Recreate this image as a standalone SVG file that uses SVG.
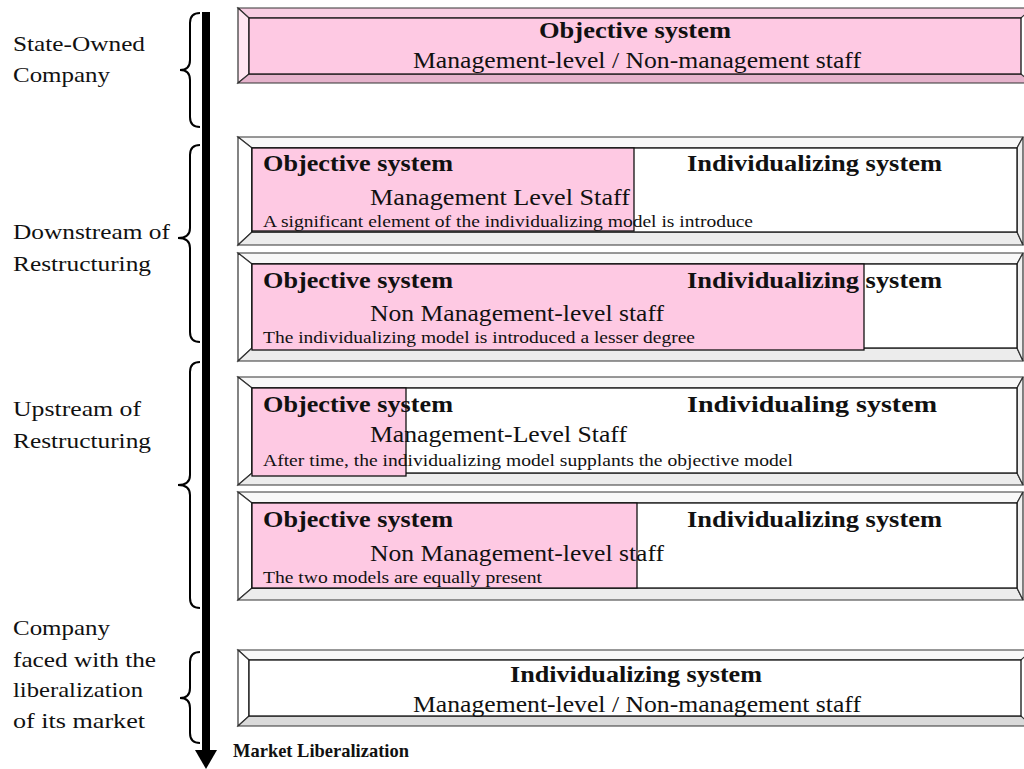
<svg xmlns="http://www.w3.org/2000/svg" width="1024" height="769" viewBox="0 0 1024 769">
  <style>
    text { font-family: "Liberation Serif", "Times New Roman", serif; fill: #111; }
    .lbl { font-size: 22px; }
    .bold { font-size: 23px; font-weight: bold; }
    .med { font-size: 23px; }
    .small { font-size: 17px; }
    .face { stroke: #333; stroke-width: 1.2; stroke-linejoin: miter; }
    .pk-top { fill: #f8cde2; } .pk-left { fill: #ffe6f1; } .pk-bot { fill: #e6b3cc; } .pk-right { fill: #efbdd6; } .pk-main { fill: #fec9e3; }
    .wh-top { fill: #f8f8f8; } .wh-left { fill: #ffffff; } .wh-bot { fill: #ececec; } .wh-right { fill: #f0f0f0; } .wh-main { fill: #ffffff; }
    .wh-bot-dark { fill: #dadada; }
    .inner { stroke: #111; stroke-width: 1.3; }
    .overlay { fill: #fec9e3; stroke: #111; stroke-width: 1.3; }
    .brace { fill: none; stroke: #000; stroke-width: 2; }
  </style>

  <!-- timeline arrow and stage braces -->
  <g id="connectors">
    <line x1="206" y1="12" x2="206" y2="752" stroke="#000" stroke-width="8"/>
    <polygon points="195,750 217,750 206,769" fill="#000"/>
    <path class="brace" d="M200,13 Q190,13 190,23 L190,60 Q190,70 180,70 Q190,70 190,80 L190,117 Q190,127 200,127"/>
    <path class="brace" d="M200,145 Q190,145 190,155 L190,228 Q190,238 178,238 Q190,238 190,248 L190,332 Q190,342 200,342"/>
    <path class="brace" d="M200,362 Q190,362 190,372 L190,475 Q190,485 178,485 Q190,485 190,495 L190,598 Q190,608 200,608"/>
    <path class="brace" d="M200,652 Q190,652 190,662 L190,688 Q190,698 180,698 Q190,698 190,708 L190,733 Q190,743 200,743"/>
  </g>

  <!-- stage labels -->
  <g id="stage-labels">
    <text class="lbl" x="13" y="51" textLength="132" lengthAdjust="spacingAndGlyphs">State-Owned</text>
    <text class="lbl" x="13" y="82" textLength="97" lengthAdjust="spacingAndGlyphs">Company</text>
    <text class="lbl" x="13" y="239" textLength="157" lengthAdjust="spacingAndGlyphs">Downstream of</text>
    <text class="lbl" x="13" y="271" textLength="138" lengthAdjust="spacingAndGlyphs">Restructuring</text>
    <text class="lbl" x="13" y="416" textLength="128" lengthAdjust="spacingAndGlyphs">Upstream of</text>
    <text class="lbl" x="13" y="448" textLength="138" lengthAdjust="spacingAndGlyphs">Restructuring</text>
    <text class="lbl" x="13" y="635" textLength="97" lengthAdjust="spacingAndGlyphs">Company</text>
    <text class="lbl" x="13" y="667" textLength="143" lengthAdjust="spacingAndGlyphs">faced with the</text>
    <text class="lbl" x="13" y="697" textLength="130" lengthAdjust="spacingAndGlyphs">liberalization</text>
    <text class="lbl" x="13" y="728" textLength="132" lengthAdjust="spacingAndGlyphs">of its market</text>
  </g>

  <!-- state-owned company -->
  <g id="box-state-owned">
    <polygon class="face pk-top" points="238,8 1032,8 1021,18 249,18"/>
    <polygon class="face pk-left" points="238,8 249,18 249,74 238,83"/>
    <polygon class="face pk-bot" points="238,83 249,74 1021,74 1032,83"/>
    <rect class="inner pk-main" x="249" y="18" width="772" height="56"/>
    <text class="bold" x="635" y="38" text-anchor="middle" textLength="192" lengthAdjust="spacingAndGlyphs">Objective system</text>
    <text class="med" x="637" y="68" text-anchor="middle" textLength="448" lengthAdjust="spacingAndGlyphs">Management-level / Non-management staff</text>
  </g>

  <!-- downstream: management level -->
  <g id="box-down-mgmt">
    <polygon class="face wh-top" points="238,137 1023,137 1017,148 252,148"/>
    <polygon class="face wh-left" points="238,137 252,148 252,232 238,245"/>
    <polygon class="face wh-bot" points="238,245 252,232 1017,232 1023,245"/>
    <polygon class="face wh-right" points="1023,137 1023,245 1017,232 1017,148"/>
    <rect class="inner wh-main" x="252" y="148" width="765" height="84"/>
    <rect class="overlay" x="252" y="148" width="382" height="83"/>
    <text class="bold" x="263" y="171" textLength="190" lengthAdjust="spacingAndGlyphs">Objective system</text>
    <text class="bold" x="687" y="171" textLength="255" lengthAdjust="spacingAndGlyphs">Individualizing system</text>
    <text class="med" x="370" y="205" textLength="260" lengthAdjust="spacingAndGlyphs">Management Level Staff</text>
    <text class="small" x="263" y="227" textLength="490" lengthAdjust="spacingAndGlyphs">A significant element of the individualizing model is introduce</text>
  </g>

  <!-- downstream: non-management level -->
  <g id="box-down-nonmgmt">
    <polygon class="face wh-top" points="238,253 1023,253 1017,264 252,264"/>
    <polygon class="face wh-left" points="238,253 252,264 252,348 238,361"/>
    <polygon class="face wh-bot" points="238,361 252,348 1017,348 1023,361"/>
    <polygon class="face wh-right" points="1023,253 1023,361 1017,348 1017,264"/>
    <rect class="inner wh-main" x="252" y="264" width="765" height="84"/>
    <rect class="overlay" x="252" y="264" width="612" height="86"/>
    <text class="bold" x="263" y="288" textLength="190" lengthAdjust="spacingAndGlyphs">Objective system</text>
    <text class="bold" x="687" y="288" textLength="255" lengthAdjust="spacingAndGlyphs">Individualizing system</text>
    <text class="med" x="370" y="321" textLength="294" lengthAdjust="spacingAndGlyphs">Non Management-level staff</text>
    <text class="small" x="263" y="343" textLength="432" lengthAdjust="spacingAndGlyphs">The individualizing model is introduced a lesser degree</text>
  </g>

  <!-- upstream: management level -->
  <g id="box-up-mgmt">
    <polygon class="face wh-top" points="238,377 1023,377 1017,388 252,388"/>
    <polygon class="face wh-left" points="238,377 252,388 252,473 238,485"/>
    <polygon class="face wh-bot" points="238,485 252,473 1017,473 1023,485"/>
    <polygon class="face wh-right" points="1023,377 1023,485 1017,473 1017,388"/>
    <rect class="inner wh-main" x="252" y="388" width="765" height="85"/>
    <rect class="overlay" x="252" y="388" width="154" height="88"/>
    <text class="bold" x="263" y="412" textLength="190" lengthAdjust="spacingAndGlyphs">Objective system</text>
    <text class="bold" x="687" y="412" textLength="250" lengthAdjust="spacingAndGlyphs">Individualing system</text>
    <text class="med" x="370" y="442" textLength="257" lengthAdjust="spacingAndGlyphs">Management-Level Staff</text>
    <text class="small" x="263" y="466" textLength="530" lengthAdjust="spacingAndGlyphs">After time, the individualizing model supplants the objective model</text>
  </g>

  <!-- upstream: non-management level -->
  <g id="box-up-nonmgmt">
    <polygon class="face wh-top" points="238,492 1023,492 1017,503 252,503"/>
    <polygon class="face wh-left" points="238,492 252,503 252,588 238,600"/>
    <polygon class="face wh-bot" points="238,600 252,588 1017,588 1023,600"/>
    <polygon class="face wh-right" points="1023,492 1023,600 1017,588 1017,503"/>
    <rect class="inner wh-main" x="252" y="503" width="765" height="85"/>
    <rect class="overlay" x="252" y="503" width="385" height="85"/>
    <text class="bold" x="263" y="527" textLength="190" lengthAdjust="spacingAndGlyphs">Objective system</text>
    <text class="bold" x="687" y="527" textLength="255" lengthAdjust="spacingAndGlyphs">Individualizing system</text>
    <text class="med" x="370" y="561" textLength="294" lengthAdjust="spacingAndGlyphs">Non Management-level staff</text>
    <text class="small" x="263" y="583" textLength="279" lengthAdjust="spacingAndGlyphs">The two models are equally present</text>
  </g>

  <!-- liberalized market -->
  <g id="box-liberalized">
    <polygon class="face wh-top" points="238,650 1032,650 1021,660 249,660"/>
    <polygon class="face wh-left" points="238,650 249,660 249,716 238,726"/>
    <polygon class="face wh-bot-dark" points="238,726 249,716 1021,716 1032,726"/>
    <rect class="inner wh-main" x="249" y="660" width="772" height="56"/>
    <text class="bold" x="636" y="682" text-anchor="middle" textLength="252" lengthAdjust="spacingAndGlyphs">Individualizing system</text>
    <text class="med" x="637" y="712" text-anchor="middle" textLength="448" lengthAdjust="spacingAndGlyphs">Management-level / Non-management staff</text>
  </g>

  <g id="axis-label">
    <text class="bold" x="233" y="757" style="font-size:19px" textLength="176" lengthAdjust="spacingAndGlyphs">Market Liberalization</text>
  </g>
</svg>
